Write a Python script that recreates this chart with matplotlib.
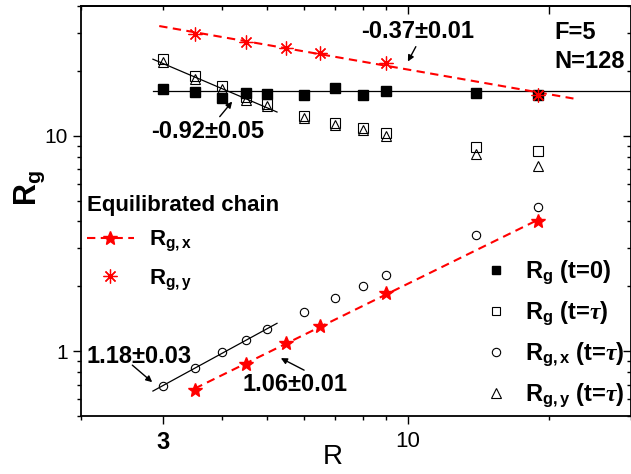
import matplotlib
matplotlib.use('Agg')
import matplotlib.pyplot as plt
from matplotlib.lines import Line2D
from matplotlib.ticker import FixedLocator, FixedFormatter, NullFormatter
import numpy as np

plt.rcParams['font.family'] = ['Liberation Sans', 'DejaVu Sans']
plt.rcParams['mathtext.fontset'] = 'custom'
plt.rcParams['mathtext.rm'] = 'Liberation Sans:bold'
plt.rcParams['mathtext.bf'] = 'Liberation Sans:bold'
plt.rcParams['mathtext.it'] = 'Liberation Serif:italic:bold'

# data
R = [3, 3.5, 4, 4.5, 5, 6, 7, 8, 9, 14, 19]
rg_t0 = [16.4, 15.9, 15.0, 15.8, 15.6, 15.45, 16.7, 15.4, 16.2, 15.8, 15.5]
rg_tau = [22.6, 18.9, 17.0, 15.1, 14.1, 12.4, 11.5, 10.9, 10.3, 8.86, 8.45]
rgx_tau = [0.687, 0.839, 0.986, 1.121, 1.261, 1.518, 1.77, 2.005, 2.257, 3.46, 4.66]
rgy_tau = [22.0, 18.35, 16.5, 14.7, 13.7, 12.1, 11.2, 10.6, 10.0, 8.25, 7.2]

R_eq = [3.5, 4.5, 5.5, 6.5, 9, 19]
rgx_eq = [0.663, 0.876, 1.086, 1.311, 1.854, 4.04]
rgy_eq = [29.5, 27.3, 25.6, 24.3, 21.8, 15.5]

# fitted values / x extents of the fitted lines
rg_t0_plateau = 16.2
fit_short = (2.85, 5.25)
fit_flat = (2.85, 30)
fit_eqx = (3.5, 19.3)
fit_eqy = (2.94, 22.6)


def power_fit(x, y, npts, xr):
    lx = np.log10(np.array(x[:npts]))
    ly = np.log10(np.array(y[:npts]))
    k, b = np.polyfit(lx, ly, 1)
    xs = np.array(xr)
    return xs, 10 ** (b + k * np.log10(xs))


fig = plt.figure(figsize=(6.31, 4.74), dpi=100)
ax = fig.add_axes([81 / 631, 58 / 474, 550 / 631, 410 / 474])
ax.set_xscale('log')
ax.set_yscale('log')

# fitted lines
xs, ys = power_fit(R, rgy_tau, 5, fit_short)
ax.plot(xs, ys, color='black', lw=0.9, zorder=2)
xs, ys = power_fit(R, rgx_tau, 5, fit_short)
ax.plot(xs, ys, color='black', lw=0.9, zorder=2)
ax.plot(fit_flat, [rg_t0_plateau, rg_t0_plateau], color='black', lw=0.9, zorder=2)
xs, ys = power_fit(R_eq, rgx_eq, 6, fit_eqx)
ax.plot(xs, ys, color='red', lw=1.5, ls='--', dashes=(4, 2.6), zorder=2)
xs, ys = power_fit(R_eq, rgy_eq, 6, fit_eqy)
ax.plot(xs, ys, color='red', lw=1.5, ls='--', dashes=(4, 2.6), zorder=2)

# markers
ax.plot(R, rg_t0, 's', color='black', ms=6.5, zorder=3)
ax.plot(R, rg_tau, 's', mfc='none', mec='black', ms=6.5, mew=0.8, zorder=3)
ax.plot(R, rgy_tau, '^', mfc='none', mec='black', ms=7.5, mew=0.8, zorder=4)
ax.plot(R, rgx_tau, 'o', mfc='none', mec='black', ms=6, mew=0.8, zorder=4)
ax.plot(R_eq, rgx_eq, '*', color='red', ms=10, zorder=5)
ax.plot(R_eq, rgy_eq, marker=(8, 2, 0), ls='none', color='red', ms=10, mew=0.9, zorder=5)

ax.set_xlim(2, 30)
ax.set_ylim(0.5, 40)

# ticks
ax.xaxis.set_major_locator(FixedLocator([3, 10]))
ax.xaxis.set_major_formatter(FixedFormatter(['3', '10']))
ax.xaxis.set_minor_locator(FixedLocator([2, 4, 5, 6, 7, 8, 9, 20, 30]))
ax.xaxis.set_minor_formatter(NullFormatter())
ax.yaxis.set_major_locator(FixedLocator([1, 10]))
ax.yaxis.set_major_formatter(FixedFormatter(['1', '10']))
ax.yaxis.set_minor_locator(FixedLocator([0.5, 0.6, 0.7, 0.8, 0.9, 2, 3, 4, 5, 6, 7, 8, 9, 20, 30, 40]))
ax.yaxis.set_minor_formatter(NullFormatter())
ax.tick_params(which='major', direction='out', length=5.5, width=1, labelsize=15, pad=4)
ax.tick_params(which='minor', direction='out', length=3, width=1)
ax.tick_params(axis='x', which='major', pad=5)
for lab in ax.get_xticklabels():
    if lab.get_text() == '3':
        lab.set_fontweight('bold')
        lab.set_fontsize(17)
    else:
        lab.set_fontsize(16)
for sp in ax.spines.values():
    sp.set_linewidth(1.3)

top = ax.secondary_xaxis('top')
top.xaxis.set_major_locator(FixedLocator([10, 20]))
top.xaxis.set_minor_locator(FixedLocator([2, 3, 4, 5, 6, 7, 8, 9, 30]))
top.xaxis.set_major_formatter(NullFormatter())
top.xaxis.set_minor_formatter(NullFormatter())
top.tick_params(which='major', direction='in', length=5.5, width=1)
top.tick_params(which='minor', direction='in', length=3, width=1)
top.spines['top'].set_linewidth(1.3)

right = ax.secondary_yaxis('right')
right.yaxis.set_major_locator(FixedLocator([1, 10]))
right.yaxis.set_minor_locator(FixedLocator([0.5, 0.6, 0.7, 0.8, 0.9, 2, 3, 4, 5, 6, 7, 8, 9, 20, 30, 40]))
right.yaxis.set_major_formatter(NullFormatter())
right.yaxis.set_minor_formatter(NullFormatter())
right.tick_params(which='major', direction='in', length=5.5, width=1)
right.tick_params(which='minor', direction='in', length=3, width=1)

# axis labels
ax.set_xlabel('R', fontsize=20)
ax.xaxis.set_label_coords(0.458, -0.1)
ax.xaxis.label.set_va('center')
ax.set_ylabel(r'$\mathrm{R_g}$', fontsize=22)
ax.yaxis.set_label_coords(-0.093, 0.556)
ax.yaxis.label.set_va('center')

# annotations
arrow = dict(arrowstyle='-|>', color='black', lw=1, mutation_scale=9, shrinkA=0, shrinkB=0)
ax.annotate('', xy=(4.21, 14.4), xytext=(3.96, 12.26), arrowprops=arrow)
ax.text(3.73, 10.5, '-0.92±0.05', fontsize=17, fontweight='bold', ha='center', va='center')
ax.annotate('', xy=(10.0, 22.1), xytext=(10.4, 25.9), arrowprops=arrow)
ax.text(10.5, 30.5, '-0.37±0.01', fontsize=17, fontweight='bold', ha='center', va='center')
ax.annotate('', xy=(2.84, 0.718), xytext=(2.575, 0.861), arrowprops=arrow)
ax.text(2.66, 0.948, '1.18±0.03', fontsize=17, fontweight='bold', ha='center', va='center')
ax.annotate('', xy=(5.35, 0.928), xytext=(6.0, 0.816), arrowprops=arrow)
ax.text(5.74, 0.702, '1.06±0.01', fontsize=17, fontweight='bold', ha='center', va='center')
ax.text(20.6, 30.1, 'F=5', fontsize=17, fontweight='bold', ha='left', va='center')
ax.text(20.6, 22.1, 'N=128', fontsize=17, fontweight='bold', ha='left', va='center')

# legends
h_eq = [
    Line2D([], [], color='red', lw=1.5, ls='--', dashes=(4, 2.6), marker='*', ms=10),
    Line2D([], [], color='red', ls='none', marker=(8, 2, 0), ms=10, mew=0.9),
]
leg1 = ax.legend(h_eq, [r'$\mathrm{R_{g,x}}$', r'$\mathrm{R_{g,y}}$'],
                 title='Equilibrated chain', alignment='left',
                 loc='upper left', bbox_to_anchor=(87 / 631, 1 - 195 / 474),
                 bbox_transform=fig.transFigure, frameon=False, borderpad=0,
                 borderaxespad=0, prop={'size': 16, 'weight': 'bold'},
                 title_fontproperties={'size': 16, 'weight': 'bold'},
                 handlelength=2.1, handletextpad=0.7, labelspacing=0.6)
ax.add_artist(leg1)

h_tau = [
    Line2D([], [], ls='none', marker='s', color='black', ms=6),
    Line2D([], [], ls='none', marker='s', mfc='none', mec='black', ms=6, mew=0.8),
    Line2D([], [], ls='none', marker='o', mfc='none', mec='black', ms=6, mew=0.8),
    Line2D([], [], ls='none', marker='^', mfc='none', mec='black', ms=7, mew=0.8),
]
lab_tau = [r'$\mathrm{R_g}$ (t=0)', r'$\mathrm{R_g}$ (t=$\tau$)',
           r'$\mathrm{R_{g,x}}$ (t=$\tau$)', r'$\mathrm{R_{g,y}}$ (t=$\tau$)']
ax.legend(h_tau, lab_tau, loc='upper left', bbox_to_anchor=(484 / 631, 1 - 259 / 474),
          bbox_transform=fig.transFigure, frameon=False, borderpad=0, borderaxespad=0,
          prop={'size': 17, 'weight': 'bold'}, handlelength=1.0, handletextpad=0.72,
          labelspacing=0.53)

fig.savefig('out.png', dpi=100)
